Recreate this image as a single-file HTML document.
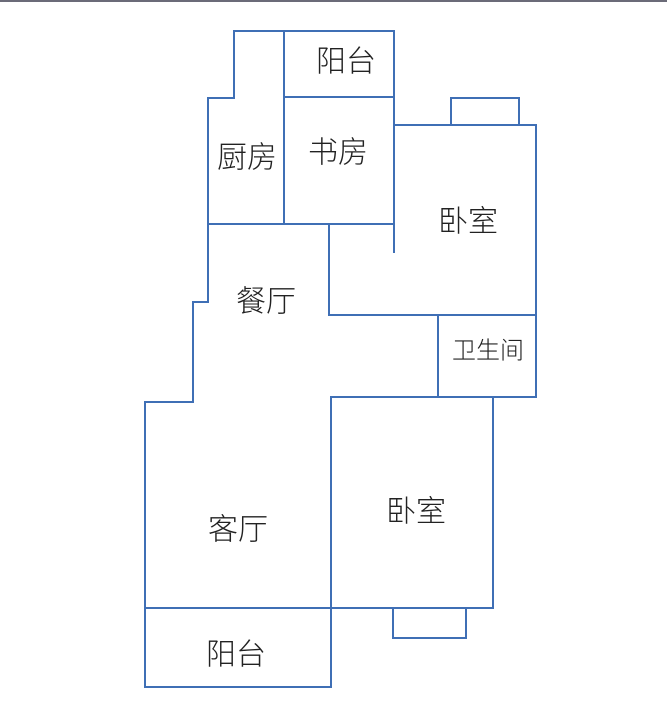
<!DOCTYPE html>
<html><head><meta charset="utf-8"><style>
html,body{margin:0;padding:0;background:#fff;}
svg{display:block;}
text{font-family:"Liberation Sans","Noto Sans CJK SC",sans-serif;fill:#222;text-anchor:middle;dominant-baseline:central;font-weight:300;}
</style></head><body>
<svg width="667" height="722" viewBox="0 0 667 722">
<rect x="0" y="0" width="667" height="2" fill="#6b6b78"/>
<g stroke="#3f6fb5" stroke-width="2" fill="none" stroke-linecap="square">
<polyline points="394,31 234,31 234,98 208,98 208,302 193,302 193,402 145,402 145,687 331,687 331,398"/>
<line x1="284" y1="31" x2="284" y2="224"/>
<line x1="284" y1="97" x2="394" y2="97"/>
<line x1="394" y1="31" x2="394" y2="252"/>
<line x1="208" y1="224" x2="394" y2="224"/>
<polyline points="329,224 329,315 536,315"/>
<polyline points="394,125 536,125 536,397"/>
<polyline points="451,125 451,98 519,98 519,125"/>
<line x1="438" y1="315" x2="438" y2="397"/>
<line x1="331" y1="397" x2="536" y2="397"/>
<line x1="493" y1="397" x2="493" y2="608"/>
<line x1="145" y1="608" x2="493" y2="608"/>
<polyline points="393,608 393,638 466,638 466,608"/>
</g>
<text x="346" y="62" font-size="30">阳台</text>
<text x="247" y="158" font-size="30">厨房</text>
<text x="338" y="153" font-size="30">书房</text>
<text x="468" y="222" font-size="30">卧室</text>
<text x="266" y="302" font-size="30">餐厅</text>
<text x="488" y="351" font-size="24">卫生间</text>
<text x="238" y="530" font-size="30">客厅</text>
<text x="416" y="512" font-size="30">卧室</text>
<text x="236" y="655" font-size="30">阳台</text>
</svg>
</body></html>
